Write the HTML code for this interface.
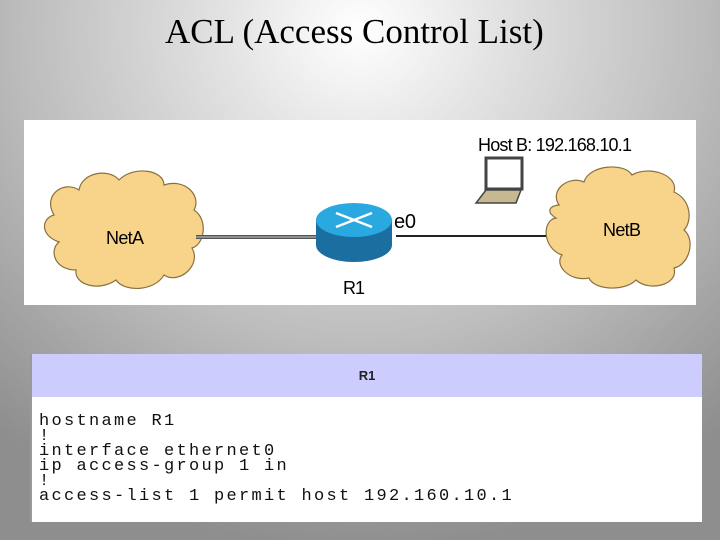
<!DOCTYPE html>
<html><head><style>
body{margin:0;width:720px;height:540px;overflow:hidden;background:radial-gradient(ellipse 560px 520px at 360px 30px,#ffffff 0%,#e2e2e2 25%,#bdbdbd 60%,#8e8e8e 100%);font-family:"Liberation Sans",sans-serif;position:relative}
.t{position:absolute;top:12px;left:165px;font-family:"Liberation Serif",serif;font-size:35px;color:#000;white-space:nowrap}
.d{position:absolute;left:24px;top:120px;width:672px;height:185px;background:#fff}
.c{position:absolute;left:30px;top:354px;width:672px;height:168px;background:#fff;border-left:2px solid #999;box-sizing:border-box}
.h{height:43px;background:#ccccff;text-align:center;line-height:43px;font-size:13px;font-weight:bold;color:#222}
pre{margin:0;position:absolute;left:7px;top:60px;font-family:"Liberation Mono",monospace;font-size:17px;line-height:15px;letter-spacing:2.3px;color:#111}
</style></head><body>
<div class="t">ACL (Access Control List)</div>
<div class="d">
<svg width="672" height="185" style="position:absolute;left:0;top:0">
<g fill="#f8d48a" stroke="#8a7040" stroke-width="1.2">
<path d="M30,95 C18,75 40,60 55,70 C58,52 85,48 95,60 C110,45 140,50 140,65 C160,58 178,75 170,90 C185,100 180,125 168,128 C178,145 155,165 140,155 C130,172 100,172 92,160 C75,172 50,165 52,150 C30,150 25,130 35,122 C15,115 18,98 30,95 Z"/>
<path d="M535,85 C525,70 545,55 560,62 C565,45 600,42 608,55 C625,45 655,55 650,72 C668,80 668,102 660,110 C672,120 665,145 650,148 C655,165 625,172 612,160 C600,172 570,170 565,158 C545,162 530,145 538,135 C518,128 518,100 532,98 C522,92 525,86 535,85 Z"/>
</g>
<text x="82" y="124" font-size="18" font-family="Liberation Sans" textLength="38">NetA</text>
<text x="579" y="116" font-size="18" font-family="Liberation Sans" textLength="38">NetB</text>
<line x1="172" y1="117" x2="296" y2="117" stroke="#555" stroke-width="4"/>
<line x1="172" y1="117" x2="296" y2="117" stroke="#ccc" stroke-width="1"/>
<line x1="372" y1="116" x2="522" y2="116" stroke="#222" stroke-width="2"/>
<path d="M292,100 L292,125 A38,17 0 0 0 368,125 L368,100 Z" fill="#1a6ea0"/>
<ellipse cx="330" cy="100" rx="38" ry="17" fill="#2aa8e0"/>
<g stroke="#fff" stroke-width="2.5"><line x1="312" y1="93" x2="348" y2="107"/><line x1="348" y1="93" x2="312" y2="107"/></g>
<text x="370" y="108" font-size="20" font-family="Liberation Sans" textLength="22">e0</text>
<text x="319" y="174" font-size="18" font-family="Liberation Sans" textLength="22">R1</text>
<text x="454" y="31" font-size="18" font-family="Liberation Sans" textLength="154">Host B: 192.168.10.1</text>
<rect x="462" y="38" width="36" height="31" fill="#fff" stroke="#444" stroke-width="3"/>
<path d="M462,70 L497,70 L492,83 L452,83 Z" fill="#c8b890" stroke="#444" stroke-width="1.5"/>
</svg>
</div>
<div class="c"><div class="h">R1</div>
<pre>hostname R1
!
interface ethernet0
ip access-group 1 in
!
access-list 1 permit host 192.160.10.1</pre></div>
</body></html>
